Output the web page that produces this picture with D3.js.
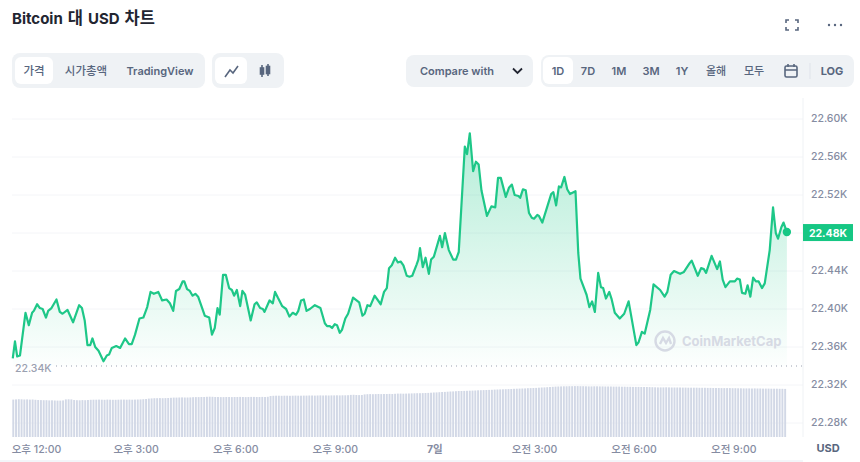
<!DOCTYPE html>
<html>
<head>
<meta charset="utf-8">
<script src="https://cdn.jsdelivr.net/npm/d3@7"></script>
<style>
  html, body { margin: 0; padding: 0; background: #fff; }
  svg { display: block; }
  text { font-family: Inter, "Noto Sans CJK KR", sans-serif; }
</style>
</head>
<body>
<div id="chart"></div>
<script>
// minutes counted from 12:00 on the first day, and the price at that moment
const minutes = [-42,-38,-34,-29,-19,-13,-7,-4,2,7,12,18,22,28,37,43,48,57,67,78,83,88,93,98,102,107,113,122,128,132,137,145,152,161,168,173,179,187,194,201,207,213,221,228,236,242,248,253,259,265,268,273,278,283,288,293,305,313,318,323,328,332,338,343,349,354,358,363,369,373,378,388,395,399,405,410,413,422,428,432,437,445,452,458,464,470,474,479,484,489,495,504,514,522,526,531,535,540,544,549,553,559,564,573,584,590,594,599,604,612,623,629,634,638,643,649,654,659,664,670,675,680,688,691,694,699,704,710,714,719,730,734,739,746,754,759,764,775,779,784,790,795,800,805,815,823,830,835,840,849,855,860,865,872,875,880,885,891,896,900,906,909,915,931,935,940,945,949,955,960,965,975,980,984,995,1000,1005,1010,1016,1021,1025,1030,1036,1040,1046,1055,1063,1071,1085,1089,1095,1100,1110,1116,1128,1136,1141,1147,1153,1164,1171,1181,1185,1196,1202,1207,1211,1221,1231,1236,1241,1246,1254,1263,1267,1272,1276,1282,1286,1291,1296,1301,1306,1312,1317,1326,1332,1337,1341,1347,1351,1357];
const prices = [22348,22366,22350,22351,22396,22383,22396,22398,22405,22401,22400,22391,22398,22401,22410,22397,22395,22399,22386,22404,22401,22388,22362,22362,22369,22360,22356,22345,22351,22352,22359,22361,22359,22369,22363,22363,22373,22390,22391,22402,22418,22416,22418,22409,22410,22406,22398,22419,22421,22429,22429,22421,22419,22414,22416,22413,22393,22391,22373,22380,22401,22394,22436,22436,22422,22420,22414,22420,22403,22419,22415,22388,22405,22407,22401,22400,22397,22409,22406,22418,22412,22403,22400,22392,22396,22394,22398,22409,22410,22398,22400,22404,22401,22385,22382,22382,22380,22384,22383,22375,22378,22390,22395,22412,22407,22393,22395,22404,22403,22414,22405,22418,22422,22443,22446,22454,22449,22450,22446,22435,22434,22435,22447,22452,22464,22444,22454,22437,22452,22455,22477,22465,22480,22462,22452,22452,22460,22571,22563,22585,22545,22555,22552,22525,22498,22508,22507,22538,22538,22518,22528,22531,22520,22519,22517,22526,22525,22501,22496,22495,22499,22498,22491,22521,22523,22509,22529,22528,22539,22526,22521,22524,22459,22432,22415,22402,22408,22397,22438,22423,22422,22411,22418,22411,22396,22390,22395,22408,22362,22365,22376,22374,22399,22426,22420,22413,22418,22436,22440,22437,22439,22448,22451,22435,22443,22442,22438,22456,22442,22450,22431,22423,22429,22429,22432,22431,22417,22416,22425,22413,22433,22429,22429,22422,22427,22462,22507,22480,22474,22486,22491,22481];
// volume in billions, one bar every five minutes
const volumeStart = -41;
const volumes = [
  37.4,37.6,37.8,37.7,37.5,37.6,37.4,37.5,37.2,37.0,36.9,36.8,36.8,36.6,36.7,36.5,36.4,36.4,36.6,37.6,
  37.7,37.6,37.0,36.8,36.7,36.9,36.8,37.0,37.2,37.3,37.3,37.4,37.3,37.2,37.4,37.3,37.2,37.2,37.3,37.4,
  37.4,37.3,37.4,37.3,37.4,37.5,37.6,37.8,38.0,38.4,38.6,38.8,38.8,38.9,38.8,38.9,39.0,39.2,39.4,39.4,
  39.5,39.6,39.5,39.5,39.6,39.8,39.9,39.9,40.0,40.0,40.2,40.3,40.2,40.0,40.0,39.9,39.9,40.0,40.0,39.9,
  40.0,40.0,40.1,40.0,39.9,40.0,40.1,40.1,40.0,40.0,40.1,40.0,40.2,41.0,41.2,41.3,41.3,41.2,41.3,41.3,
  41.2,41.3,41.4,41.3,41.3,41.4,41.4,41.5,41.5,41.4,41.5,41.6,41.5,41.6,41.5,41.6,41.6,41.7,41.6,41.7,
  41.7,41.8,42.1,42.2,42.0,41.9,42.0,42.6,42.8,42.9,42.8,42.9,43.0,42.9,43.0,43.0,43.1,43.0,43.2,43.4,
  43.4,43.3,43.4,43.5,43.6,43.7,43.8,43.8,43.9,44.0,44.1,44.3,44.5,44.6,44.8,45.0,45.1,45.3,45.5,45.6,
  45.8,46.0,46.0,46.1,46.2,46.3,46.4,46.5,46.7,46.8,46.9,47.0,47.1,47.2,47.4,47.5,47.6,47.7,47.8,47.9,
  48.0,48.2,48.3,48.4,48.5,48.6,48.8,48.9,49.0,49.1,49.3,49.5,49.6,49.8,50.0,50.2,50.4,50.5,50.6,50.7,
  50.7,50.8,50.8,50.9,50.9,50.8,50.8,50.7,50.6,50.6,50.7,50.7,50.6,50.6,50.5,50.5,50.5,50.4,50.4,50.4,
  50.3,50.3,50.2,50.2,50.1,50.1,50.1,50.0,50.0,50.0,49.9,49.8,49.7,49.6,49.6,49.6,49.7,49.6,49.5,49.5,
  49.5,49.5,49.4,49.4,49.3,49.3,49.3,49.3,49.2,49.2,49.2,49.1,49.1,49.0,49.0,49.0,48.9,48.9,48.9,48.9,
  48.8,48.8,48.7,48.7,48.6,48.6,48.6,48.5,48.6,48.5,48.5,48.4,48.4,48.4,48.3,48.3,48.3,48.2,48.2,48.1
];
const priceTicks = [22280,22320,22360,22400,22440,22480,22520,22560,22600];
const timeTicks = [0,180,360,540,720,900,1080,1260];
const timeLabels = ["오후 12:00","오후 3:00","오후 6:00","오후 9:00","7일","오전 3:00","오전 6:00","오전 9:00"];
const lowPrice = 22340;
const lastPrice = 22481;

const width = 860, height = 462;
const green = "#16c784", grey = "#858ca2", dark = "#58667e";

const svg = d3.select("#chart").append("svg")
    .attr("width", width)
    .attr("height", height);

const x = d3.scaleLinear().domain([0, 1260]).range([36, 733.2]);
const y = d3.scaleLinear().domain([22280, 22600]).range([423, 119]);
const yVol = d3.scaleLinear().domain([0, 52]).range([437, 385]);

const grad = svg.append("defs").append("linearGradient")
    .attr("id", "fade")
    .attr("gradientUnits", "userSpaceOnUse")
    .attr("x1", 0).attr("x2", 0)
    .attr("y1", y(22585)).attr("y2", y(lowPrice));
grad.append("stop").attr("offset", 0).attr("stop-color", green).attr("stop-opacity", 0.32);
grad.append("stop").attr("offset", 1).attr("stop-color", green).attr("stop-opacity", 0.01);

// Axes - the 22.48K label is carried by the last price tag
const yAxis = svg.append("g")
    .attr("transform", "translate(803,0)")
    .call(d3.axisRight(y).tickValues(priceTicks.filter(d => d !== 22480)).tickSize(0).tickPadding(8)
        .tickFormat(d => (d / 1000).toFixed(2) + "K"));
yAxis.select(".domain").remove();
yAxis.selectAll("text").attr("fill", grey).attr("font-size", 10.5).attr("font-weight", 500).attr("dy", "0.28em");

svg.append("g").selectAll("line")
    .data(priceTicks)
    .join("line")
        .attr("x1", 12)
        .attr("x2", 803)
        .attr("y1", d => y(d))
        .attr("y2", d => y(d))
        .style("stroke", "#f4f5f8");
svg.append("line")
    .attr("x1", 803).attr("x2", 803)
    .attr("y1", 98).attr("y2", 437)
    .style("stroke", "#eff2f5");

const xAxis = svg.append("g")
    .attr("transform", "translate(0,442.5)")
    .call(d3.axisBottom(x).tickValues(timeTicks).tickSize(0).tickPadding(3)
        .tickFormat((d, i) => timeLabels[i]));
xAxis.select(".domain").remove();
xAxis.selectAll("text")
    .attr("fill", grey)
    .attr("font-size", 10.5)
    .attr("font-weight", (d, i) => timeLabels[i] === "7일" ? 700 : 500);

svg.append("text")
    .attr("x", 828).attr("y", 452)
    .attr("text-anchor", "middle")
    .attr("fill", dark)
    .attr("font-size", 11)
    .attr("font-weight", 700)
    .text("USD");

svg.append("rect")
    .attr("x", 0).attr("y", 460)
    .attr("width", 803).attr("height", 2)
    .attr("fill", "#f3f5f9");

// Volume bars
svg.append("g").selectAll("rect")
    .data(volumes)
    .join("rect")
        .attr("x", (d, i) => x(volumeStart + i * 5) - 1)
        .attr("width", 1.9)
        .attr("y", d => yVol(d))
        .attr("height", d => yVol(0) - yVol(d))
        .attr("fill", "#d2d8e6");

// Price area and line
const series = minutes.map((m, i) => ({m: m, p: prices[i]}));

svg.append("path")
    .datum(series)
    .attr("d", d3.area().x(d => x(d.m)).y0(y(lowPrice)).y1(d => y(d.p)))
    .attr("fill", "url(#fade)");

svg.append("path")
    .datum(series)
    .attr("d", d3.line().x(d => x(d.m)).y(d => y(d.p)))
    .attr("fill", "none")
    .style("stroke", "#1ec788")
    .style("stroke-width", 2.2)
    .style("stroke-linejoin", "round");

// Lowest price marker
svg.append("line")
    .attr("x1", 56).attr("x2", 803)
    .attr("y1", y(lowPrice)).attr("y2", y(lowPrice))
    .style("stroke", "#9aa0b0")
    .style("stroke-dasharray", "1,4");
svg.append("text")
    .attr("x", 15).attr("y", y(lowPrice) + 6)
    .attr("fill", "#9aa0b0")
    .attr("font-size", 10.5)
    .attr("font-weight", 500)
    .text((lowPrice / 1000).toFixed(2) + "K");

// Watermark
const logo = svg.append("g").attr("transform", "translate(665,341)")
    .style("fill", "none").style("stroke", "#d6dae4").style("stroke-width", 2.4);
logo.append("circle").attr("r", 9.5);
logo.append("path").attr("d", "M-5,3 L-2,-3 L1,2 L4,-3 L6,3");
svg.append("text")
    .attr("x", 682).attr("y", 346)
    .attr("fill", "#d6dae4")
    .attr("font-size", 13)
    .attr("font-weight", 700)
    .text("CoinMarketCap");

// Last price
svg.append("circle")
    .attr("cx", x(minutes[minutes.length - 1]))
    .attr("cy", y(lastPrice))
    .attr("r", 4.2)
    .attr("fill", green);
svg.append("rect")
    .attr("x", 803).attr("y", y(lastPrice) - 8)
    .attr("width", 50).attr("height", 17)
    .attr("fill", green);
svg.append("text")
    .attr("x", 828).attr("y", y(lastPrice) + 4.5)
    .attr("text-anchor", "middle")
    .attr("fill", "#fff")
    .attr("font-size", 10.5)
    .attr("font-weight", 700)
    .text((lastPrice / 1000).toFixed(2) + "K");

// Title and toolbar
const title = svg.append("text")
    .attr("x", 12).attr("y", 24)
    .attr("fill", "#222531")
    .attr("font-size", 15)
    .attr("font-weight", 700);
title.append("tspan").text("Bitcoin");
title.append("tspan").attr("dx", 5).attr("font-size", 16.5).text("대");
title.append("tspan").attr("dx", 5).text("USD");
title.append("tspan").attr("dx", 5).attr("font-size", 16.5).text("차트");

function panel(x0, x1, y0, y1, fill, r) {
    svg.append("rect")
        .attr("x", x0).attr("y", y0)
        .attr("width", x1 - x0).attr("height", y1 - y0)
        .attr("rx", r)
        .attr("fill", fill);
}
function label(s, cx, weight, size) {
    svg.append("text")
        .attr("x", cx).attr("y", 75)
        .attr("text-anchor", "middle")
        .attr("fill", dark)
        .attr("font-size", size || 11)
        .attr("font-weight", weight)
        .text(s);
}

panel(12, 205, 53, 88, "#eff2f5", 8);
panel(15, 53, 57, 84, "#fff", 6);
panel(212, 284, 53, 88, "#eff2f5", 8);
panel(215, 247, 57, 84, "#fff", 6);
panel(406, 533, 55, 87, "#eff2f5", 8);
panel(541, 854, 55, 87, "#eff2f5", 8);
panel(543, 573, 57, 84, "#fff", 6);

label("가격", 34, 500, 11.5);
label("시가총액", 86, 500, 11.5);
label("TradingView", 160, 600);
label("Compare with", 457, 600);

const rangeLabels = ["1D","7D","1M","3M","1Y","올해","모두"];
const rangeCentres = [558,588,619,651,682,716,754];
rangeLabels.forEach((s, i) => label(s, rangeCentres[i], i > 4 ? 500 : 600));
label("LOG", 832, 700);

const icon = svg.append("g")
    .style("fill", "none")
    .style("stroke", dark)
    .style("stroke-width", 1.6);
// line chart button
icon.append("path").attr("d", "M225,77 L230,70 L233,73 L238,66");
// candle button
icon.append("path").attr("d", "M262,65 V77 M268,64 V76");
icon.append("rect").attr("x", 260.5).attr("y", 68).attr("width", 3).attr("height", 6).attr("fill", dark);
icon.append("rect").attr("x", 266.5).attr("y", 66.5).attr("width", 3).attr("height", 7).attr("fill", dark);
// chevron
icon.append("path").attr("d", "M513,68.5 L517.5,73 L522,68.5").style("stroke", "#222531").style("stroke-width", 1.8);
// calendar
icon.append("rect").attr("x", 785).attr("y", 66).attr("width", 12).attr("height", 11).attr("rx", 1.5);
icon.append("path").attr("d", "M785,70 H797 M788,64 V67 M794,64 V67");
// separator
svg.append("line").attr("x1", 810).attr("x2", 810).attr("y1", 63).attr("y2", 79).style("stroke", "#dfe3ea");
// fullscreen
icon.append("path").attr("d", "M786,23 V20 H789 M795,20 H798 V23 M798,27 V30 H795 M789,30 H786 V27");
// more
svg.append("g").selectAll("circle")
    .data([829, 835, 841])
    .join("circle")
        .attr("cx", d => d)
        .attr("cy", 25)
        .attr("r", 1.2)
        .attr("fill", dark);
</script>
</body>
</html>
